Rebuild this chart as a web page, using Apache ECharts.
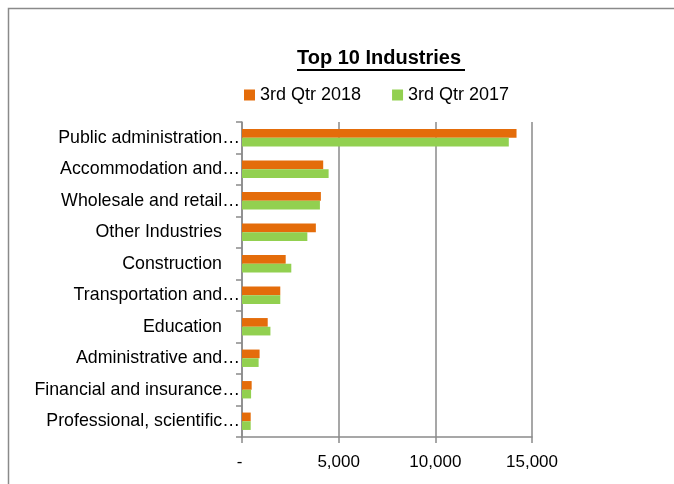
<!DOCTYPE html>
<html>
<head>
<meta charset="utf-8">
<script src="https://cdn.jsdelivr.net/npm/echarts@6/dist/echarts.min.js"></script>
<style>
html,body{margin:0;padding:0;background:#fff;}
#c{width:674px;height:484px;}
</style>
</head>
<body>
<div id="c"></div>
<script>
// Data (top-to-bottom order as shown)
var categories = [
  'Public administration\u2026',
  'Accommodation and\u2026',
  'Wholesale and retail\u2026',
  'Other Industries',
  'Construction',
  'Transportation and\u2026',
  'Education',
  'Administrative and\u2026',
  'Financial and insurance\u2026',
  'Professional, scientific\u2026'
];
var seriesNames = ['3rd Qtr 2018', '3rd Qtr 2017'];
var q3_2018 = [14200, 4200, 4080, 3820, 2260, 1980, 1330, 910, 500, 450];
var q3_2017 = [13800, 4480, 4030, 3380, 2550, 1980, 1470, 860, 470, 450];
var xTickValues = [0, 5000, 10000, 15000];
var xTickLabels = ['- ', '5,000', '10,000', '15,000'];

var FONT = '"Liberation Sans", Arial, sans-serif';
var GRAY = '#8a8a8a';

var chart = echarts.init(document.getElementById('c'), null, {renderer: 'canvas'});
chart.setOption({
  backgroundColor: '#ffffff',
  animation: false,
  title: {
    text: 'Top 10 Industries',
    left: 297,
    top: 48,
    padding: 0,
    textStyle: {fontFamily: FONT, fontSize: 20, fontWeight: 'bold', color: '#000'}
  },
  graphic: [
    {type: 'rect', shape: {x: 8.5, y: 8.5, width: 800, height: 800},
     style: {fill: 'none', stroke: GRAY, lineWidth: 1.5}, silent: true},
    {type: 'line', shape: {x1: 297, y1: 70, x2: 465, y2: 70},
     style: {stroke: '#000', lineWidth: 2}, silent: true}
  ],
  legend: {
    left: 244,
    top: 86,
    padding: 0,
    itemWidth: 11,
    itemHeight: 11,
    itemGap: 31,
    icon: 'rect',
    textStyle: {fontFamily: FONT, fontSize: 18, color: '#000'},
    data: seriesNames
  },
  grid: {left: 242, right: 142, top: 122, bottom: 47, containLabel: false},
  xAxis: {
    type: 'value',
    min: 0,
    max: 15000,
    interval: 5000,
    axisLine: {show: true, lineStyle: {color: GRAY, width: 1.5}},
    axisTick: {show: true, length: 6, lineStyle: {color: GRAY, width: 1.5}},
    splitLine: {show: true, lineStyle: {color: GRAY, width: 1.5}},
    axisLabel: {
      margin: 17,
      fontFamily: FONT, fontSize: 17, color: '#000',
      formatter: function (v) {
        var i = xTickValues.indexOf(v);
        return i >= 0 ? xTickLabels[i] : '';
      }
    }
  },
  yAxis: {
    type: 'category',
    inverse: true,
    data: categories,
    axisLine: {show: true, lineStyle: {color: GRAY, width: 1.5}},
    axisTick: {show: true, length: 6, lineStyle: {color: GRAY, width: 1.5}},
    splitLine: {show: false},
    axisLabel: {
      margin: 2,
      fontFamily: FONT, fontSize: 17.8, color: '#000',
      formatter: function (v) {
        if (v.slice(-1) === '\u2026') return '{t|' + v + '}';
        return '{p|' + v + '}';
      },
      rich: {
        t: {fontFamily: FONT, fontSize: 17.8, color: '#000'},
        p: {fontFamily: FONT, fontSize: 17.8, color: '#000', padding: [0, 18, 0, 0]}
      }
    }
  },
  series: [
    {
      name: seriesNames[0], type: 'bar', data: q3_2018,
      barWidth: 8.7, barGap: '0%',
      itemStyle: {color: '#E46C0A'}
    },
    {
      name: seriesNames[1], type: 'bar', data: q3_2017,
      barWidth: 8.7, barGap: '0%',
      itemStyle: {color: '#92D050'}
    }
  ]
});
</script>
</body>
</html>
